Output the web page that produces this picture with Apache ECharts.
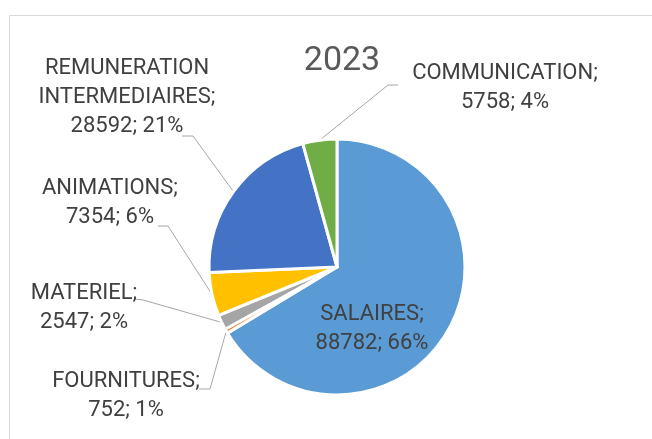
<!DOCTYPE html>
<html>
<head>
<meta charset="utf-8">
<script src="https://cdn.jsdelivr.net/npm/echarts@6/dist/echarts.min.js"></script>
<style>
  html, body { margin: 0; padding: 0; background: #fff; }
  #main { width: 652px; height: 439px; }
</style>
</head>
<body>
<div id="main"></div>
<script>
var categories = ['SALAIRES', 'FOURNITURES', 'MATERIEL', 'ANIMATIONS', 'REMUNERATION INTERMEDIAIRES', 'COMMUNICATION'];
var values = [88782, 752, 2547, 7354, 28592, 5758];
var colors = ['#5B9BD5', '#ED7D31', '#A5A5A5', '#FFC000', '#4472C4', '#70AD47'];
var titleText = '2023';

// label centres as Excel placed them, and where each leader line bends / stops
var labelSpots = [
  { x: 372, y: 329 },
  { x: 126, y: 396, elbow: [210, 389], end: [199, 389] },
  { x: 84,  y: 308, elbow: [143, 300], end: [135, 299] },
  { x: 110, y: 203, elbow: [168, 226], end: [158, 226] },
  { x: 127, y: 97,  elbow: [193, 136], end: [182, 136] },
  { x: 505, y: 88,  elbow: [388, 85],  end: [398, 85] }
];

var myChart = echarts.init(document.getElementById('main'));

var pieData = categories.map(function (name, i) {
  var item = { name: name, value: values[i], itemStyle: { color: colors[i] } };
  if (i === 0) {
    item.labelLine = { show: false };
  }
  return item;
});

myChart.setOption({
  animation: false,
  title: {
    text: titleText,
    left: 337,
    top: 39,
    textAlign: 'center',
    textStyle: {
      fontFamily: 'Roboto',
      fontSize: 34,
      fontWeight: 'normal',
      color: '#595959'
    }
  },
  graphic: [{
    type: 'rect',
    silent: true,
    shape: { x: 9.5, y: 15.5, width: 700, height: 500 },
    style: { fill: 'none', stroke: '#d9d9d9', lineWidth: 1 }
  }],
  series: [{
    type: 'pie',
    center: [337, 267],
    radius: 128,
    startAngle: 90,
    clockwise: true,
    avoidLabelOverlap: false,
    itemStyle: { borderColor: '#fff', borderWidth: 3 },
    label: {
      show: true,
      fontFamily: 'Roboto',
      fontSize: 22,
      lineHeight: 29,
      color: '#404040',
      align: 'center',
      formatter: function (p) {
        return p.name.replace(' ', '\n') + ';\n' + p.value + '; ' + Math.round(p.percent) + '%';
      }
    },
    labelLine: {
      show: true,
      smooth: false,
      lineStyle: { color: '#a6a6a6', width: 1 }
    },
    labelLayout: function (params) {
      var s = labelSpots[params.dataIndex];
      var out = { x: s.x, y: s.y, align: 'center', verticalAlign: 'middle' };
      if (s.elbow && params.labelLinePoints) {
        out.labelLinePoints = [params.labelLinePoints[0], s.elbow, s.end];
      }
      return out;
    },
    data: pieData
  }]
});
</script>
</body>
</html>
